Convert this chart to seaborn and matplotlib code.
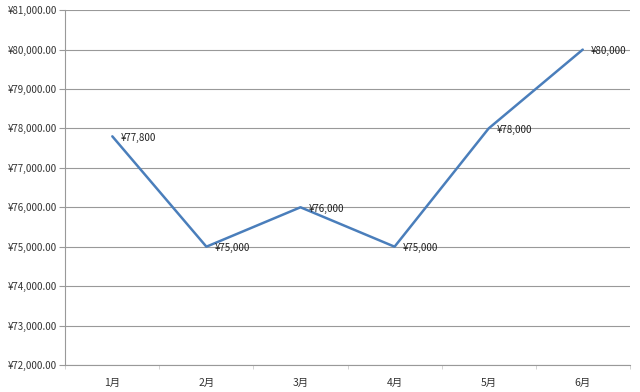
import numpy as np
import pandas as pd
import seaborn as sns
import matplotlib.pyplot as plt
from matplotlib.ticker import FuncFormatter, MultipleLocator, FixedLocator

months = ['1月', '2月', '3月', '4月', '5月', '6月']
values = [77800, 75000, 76000, 75000, 78000, 80000]

df = pd.DataFrame({'month': months, 'value': values})
df['pos'] = np.arange(len(months))

sns.set_style('white')
plt.rcParams['font.family'] = ['Noto Sans CJK SC', 'DejaVu Sans']

fig = plt.figure(figsize=(6.4, 3.92), dpi=100)
ax = fig.add_axes([0.102, 0.069, 0.882, 0.905])

sns.lineplot(data=df, x='pos', y='value', ax=ax, color='#4a7ebb', linewidth=1.8)

# etiquetas de datos
for x, y in zip(df['pos'], df['value']):
    ax.annotate(f'¥{y:,.0f}', (x, y), xytext=(6, -1), textcoords='offset points',
                ha='left', va='center', fontsize=7, color='#222222')

ax.set_xlim(-0.5, 5.5)
ax.set_ylim(72000, 81000)
ax.set_xticks(df['pos'])
ax.set_xticklabels(months)
ax.xaxis.set_minor_locator(FixedLocator(np.arange(-0.5, 6, 1)))
ax.yaxis.set_major_locator(MultipleLocator(1000))
ax.yaxis.set_major_formatter(FuncFormatter(lambda v, p: f'¥{v:,.2f}'))
ax.set_xlabel('')
ax.set_ylabel('')

ax.grid(axis='y', color='#999999', linewidth=0.8)
ax.set_axisbelow(True)
for s in ['top', 'right']:
    ax.spines[s].set_visible(False)
for s in ['left', 'bottom']:
    ax.spines[s].set_color('#999999')
    ax.spines[s].set_linewidth(0.8)

ax.tick_params(axis='y', which='major', left=True, length=4, color='#999999',
               labelsize=7, labelcolor='#333333', pad=2)
ax.tick_params(axis='x', which='major', bottom=False, labelsize=7.5,
               labelcolor='#333333', pad=6)
ax.tick_params(axis='x', which='minor', bottom=True, length=3, color='#cccccc')

fig.savefig('out.png', dpi=100)
